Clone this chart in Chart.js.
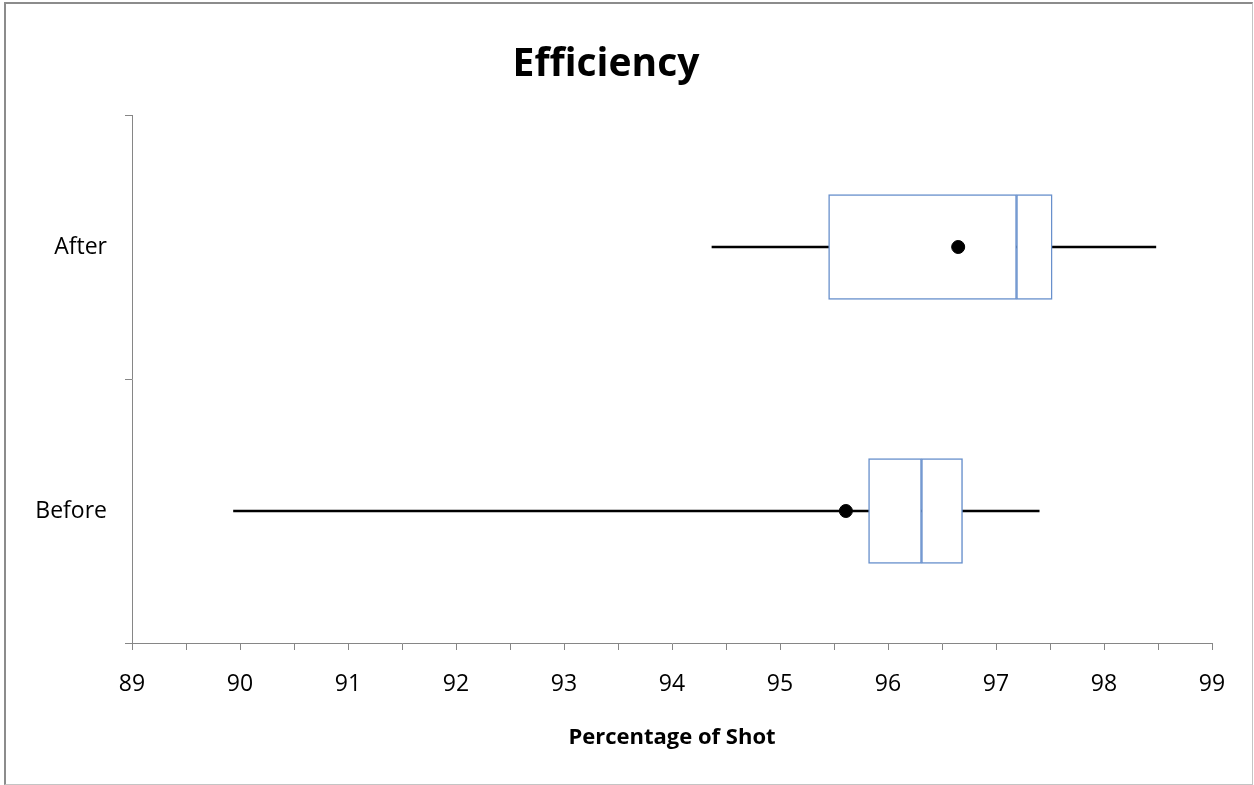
<!DOCTYPE html>
<html>
<head>
<meta charset="utf-8">
<script src="https://cdn.jsdelivr.net/npm/chart.js@4"></script>
<style>
    body { margin: 0; background: #fff; }
    #frame {
        position: absolute; left: 4px; top: 2px; width: 1246px; height: 780px;
        border-top: 2px solid #8c8c8c; border-left: 2px solid #8c8c8c;
        border-right: 1px solid #c4c4c4; border-bottom: 1px solid #c4c4c4;
    }
    #wrap { position: absolute; left: 0; top: 0; width: 1254px; height: 785px; }
</style>
</head>
<body>
<div id="frame"></div>
<div id="wrap"><canvas id="boxChart"></canvas></div>
<script>
        // box plot values
        const groups = ['After', 'Before'];
        const minValues = [94.37, 89.94];
        const q1Values = [95.45, 95.82];
        const medianValues = [97.19, 96.31];
        const q3Values = [97.52, 96.69];
        const maxValues = [98.48, 97.40];
        const meanValues = [96.65, 95.61];

        const xMin = 89;
        const xMax = 99;

        const boxBlue = '#6890cc';
        const axisGray = '#868686';

        function makeBoxChart() {
            const ctx = document.getElementById('boxChart').getContext('2d');
            new Chart(ctx, {
                type: 'bar',
                data: {
                    labels: groups,
                    datasets: [
                        {
                            // whisker line min -> max
                            label: 'Range',
                            data: groups.map((g, i) => [minValues[i], maxValues[i]]),
                            backgroundColor: '#000',
                            borderWidth: 0,
                            barThickness: 2,
                            grouped: false,
                            order: 3
                        },
                        {
                            label: 'Q1 - Median',
                            data: groups.map((g, i) => [q1Values[i], medianValues[i]]),
                            backgroundColor: '#fff',
                            borderColor: boxBlue,
                            borderWidth: 1.5,
                            borderSkipped: false,
                            barThickness: 105,
                            grouped: false,
                            order: 2
                        },
                        {
                            label: 'Median - Q3',
                            data: groups.map((g, i) => [medianValues[i], q3Values[i]]),
                            backgroundColor: '#fff',
                            borderColor: boxBlue,
                            borderWidth: 1.5,
                            borderSkipped: false,
                            barThickness: 105,
                            grouped: false,
                            order: 2
                        },
                        {
                            type: 'line',
                            label: 'Mean',
                            indexAxis: 'y',
                            data: meanValues,
                            showLine: false,
                            pointRadius: 6.5,
                            pointHoverRadius: 6.5,
                            pointBackgroundColor: '#000',
                            pointBorderColor: '#000',
                            order: 1
                        }
                    ]
                },
                options: {
                    indexAxis: 'y',
                    responsive: true,
                    maintainAspectRatio: false,
                    animation: false,
                    layout: {
                        padding: { top: 10, left: 0, right: 42, bottom: 20 }
                    },
                    plugins: {
                        legend: { display: false },
                        tooltip: { enabled: false },
                        title: {
                            display: true,
                            text: 'Efficiency',
                            color: '#000',
                            font: { family: 'Open Sans', size: 39, weight: 'bold' },
                            padding: { top: 31, bottom: 27.2 }
                        }
                    },
                    scales: {
                        x: {
                            type: 'linear',
                            min: xMin,
                            max: xMax,
                            afterFit: s => { s.height = 122; },
                            ticks: {
                                stepSize: 0.5,
                                autoSkip: false,
                                maxRotation: 0,
                                padding: 21,
                                color: '#000',
                                font: { family: 'Open Sans', size: 23 },
                                callback: v => Number.isInteger(v) ? String(v) : ''
                            },
                            grid: {
                                drawOnChartArea: false,
                                tickLength: 7,
                                color: axisGray
                            },
                            border: { color: axisGray, width: 1 },
                            title: {
                                display: true,
                                text: 'Percentage of Shot',
                                color: '#000',
                                font: { family: 'Open Sans', size: 22, weight: 'bold' },
                                padding: { top: 0, bottom: 14 }
                            }
                        },
                        y: {
                            type: 'category',
                            offset: true,
                            afterFit: s => { s.width = 132; },
                            ticks: {
                                padding: 18,
                                color: '#000',
                                font: { family: 'Open Sans', size: 23 }
                            },
                            grid: {
                                offset: true,
                                drawOnChartArea: false,
                                tickLength: 7,
                                color: axisGray
                            },
                            border: { color: axisGray, width: 1 }
                        }
                    }
                }
            });
        }

        makeBoxChart();
</script>
</body>
</html>
